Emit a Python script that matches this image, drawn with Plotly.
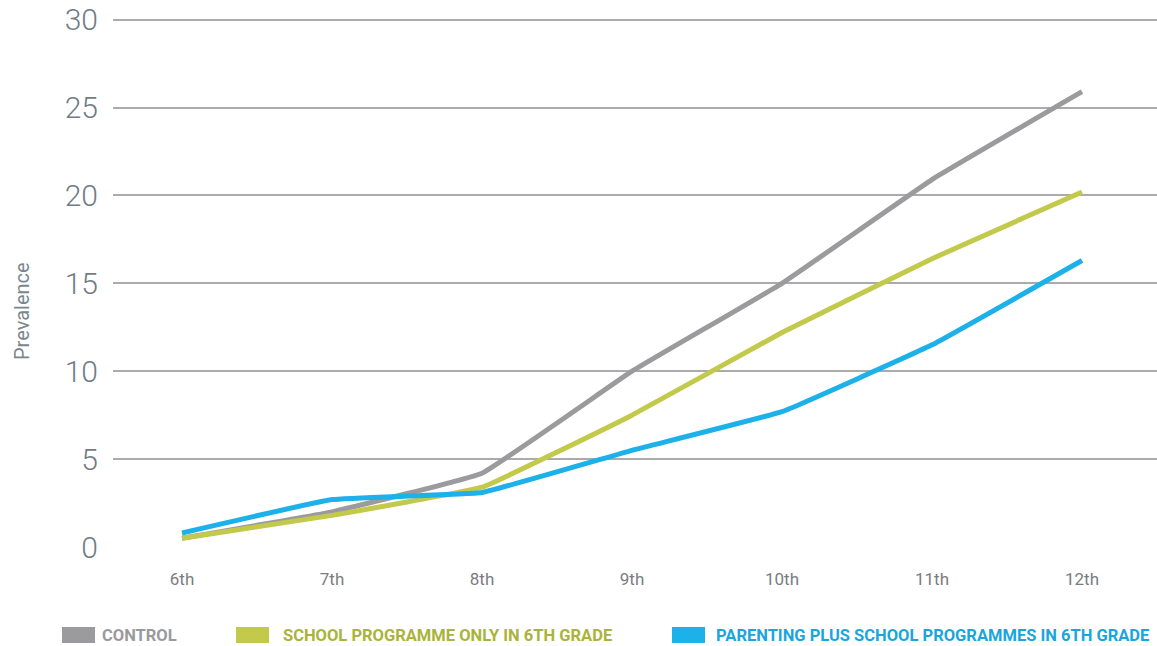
import plotly.graph_objects as go

grades = ["6th", "7th", "8th", "9th", "10th", "11th", "12th"]
control = [0.5, 2.0, 4.2, 10.0, 15.0, 20.9, 25.9]
school_only = [0.5, 1.8, 3.4, 7.5, 12.2, 16.4, 20.2]
parenting_plus = [0.8, 2.7, 3.1, 5.5, 7.7, 11.5, 16.3]

series_names = ["CONTROL", "SCHOOL PROGRAMME ONLY IN 6TH GRADE",
                "PARENTING PLUS SCHOOL PROGRAMMES IN 6TH GRADE"]
line_colors = ["#9b9b9d", "#c3c94a", "#1cb1e8"]
text_colors = ["#9a9a9c", "#aab33c", "#1aa5dc"]

W, H = 1157, 646
L, T, B = 113, 17, H - 547
PW, PH = W - L, H - T - B

fig = go.Figure()
for vals, color in zip([control, school_only, parenting_plus], line_colors):
    fig.add_trace(go.Scatter(
        x=list(range(len(grades))), y=vals, mode="lines",
        line=dict(color=color, width=5, shape="spline", smoothing=0.25),
        showlegend=False, hoverinfo="skip"
    ))

# legend drawn by hand: wide rectangular swatches with coloured labels
legend_pos = [(62, 100), (236, 281), (672, 714)]
for (sx, tx), name, lc, tc in zip(legend_pos, series_names, line_colors, text_colors):
    fig.add_shape(type="rect", xref="paper", yref="paper",
                  x0=(sx - L) / PW, x1=(sx + 33 - L) / PW,
                  y0=(547 - 643) / PH, y1=(547 - 627) / PH,
                  fillcolor=lc, line_width=0)
    fig.add_annotation(text=f"<b>{name}</b>", xref="paper", yref="paper",
                       x=(tx - L) / PW, y=(547 - 635) / PH,
                       xanchor="left", yanchor="middle", showarrow=False,
                       font=dict(family="Roboto", size=16.5, color=tc))

# y axis title sits a little below the plot's centre in the original
fig.add_annotation(text="Prevalence", xref="paper", yref="paper",
                   x=(22 - L) / PW, y=(547 - 311) / PH,
                   xanchor="center", yanchor="middle", textangle=-90,
                   showarrow=False,
                   font=dict(family="Roboto", size=20, color="#7a8790"))

fig.update_layout(
    width=W, height=H,
    margin=dict(l=L, r=0, t=T, b=B),
    paper_bgcolor="white", plot_bgcolor="white",
    xaxis=dict(
        tickmode="array", tickvals=list(range(len(grades))), ticktext=grades,
        range=[-0.46, 6.5], showgrid=False, zeroline=False, showline=False,
        ticks="", ticklabelstandoff=20,
        tickfont=dict(family="Roboto", size=17, color="#7a7d80"),
    ),
    yaxis=dict(
        range=[0, 30.15], tickvals=[0, 5, 10, 15, 20, 25, 30],
        showgrid=True, gridcolor="#ababab", gridwidth=2,
        zeroline=False, showline=False, ticks="", ticklabelstandoff=14,
        tickfont=dict(family="Roboto", weight=300, size=30, color="#6f7c86"),
    ),
)

# drop the page's default body margin so the figure sits at the window corner
fig.write_html("out.html", config={"displayModeBar": False},
               post_script="document.body.style.margin='0';")
